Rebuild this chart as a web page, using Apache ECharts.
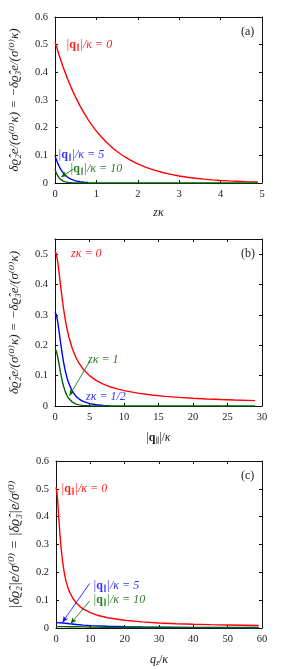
<!DOCTYPE html>
<html>
<head>
<meta charset="utf-8">
<script src="https://cdn.jsdelivr.net/npm/echarts@6/dist/echarts.min.js"></script>
<style>
html,body{margin:0;padding:0;background:#fff;}
#chart{width:288px;height:669px;}
</style>
</head>
<body>
<div id="chart"></div>
<script>
// ---------- Panel (a): charge density vs z*kappa ----------
var aX_red   = [0,0.1,0.2,0.3,0.4,0.5,0.6,0.7,0.8,0.9,1.0,1.1,1.2,1.3,1.4,1.5,1.6,1.7,1.8,1.9,2.0,2.2,2.4,2.6,2.8,3.0,3.2,3.4,3.6,3.8,4.0,4.2,4.4,4.6,4.8,4.9];
var aY_red   = [0.510,0.4615,0.4176,0.3778,0.3419,0.3093,0.2799,0.2533,0.2292,0.2074,0.1876,0.1698,0.1536,0.139,0.1258,0.1138,0.103,0.0932,0.0843,0.0763,0.069,0.0565,0.0463,0.0379,0.031,0.0254,0.0208,0.017,0.0139,0.0114,0.0093,0.0076,0.0063,0.0051,0.0042,0.0038];
var aX_blue  = [0,0.025,0.05,0.075,0.1,0.125,0.15,0.175,0.2,0.25,0.3,0.35,0.4,0.45,0.5,0.55,0.6,0.7,0.8];
var aY_blue  = [0.100,0.088,0.0775,0.0682,0.060,0.0529,0.0465,0.041,0.0361,0.0279,0.0217,0.0168,0.013,0.0101,0.0078,0.0061,0.0047,0.0028,0.0017];
var aX_green = [0,0.025,0.05,0.075,0.1,0.125,0.15,0.2,0.25,0.3,0.35,0.4,0.5,0.6,0.8,1,2,3,4,4.9];
var aY_green = [0.050,0.0389,0.0303,0.0236,0.0184,0.0143,0.0112,0.0068,0.0041,0.0025,0.0015,0.0009,0.0003,0.0001,0,0,0,0,0,0];

// ---------- Panel (b): charge density vs |q|/kappa ----------
var bX_red   = [0,0.2,0.4,0.6,0.8,1,1.25,1.5,1.75,2,2.5,3,3.5,4,5,6,7,8,9,10,12,14,16,18,20,22,24,26,29];
var bY_red   = [0.510,0.5001,0.4735,0.4374,0.3982,0.3606,0.3186,0.2829,0.253,0.2281,0.1894,0.1613,0.1401,0.1237,0.1,0.0838,0.0721,0.0633,0.0563,0.0507,0.0424,0.0363,0.0318,0.0283,0.0255,0.0232,0.0212,0.0196,0.0176];
var bX_blue  = [0,0.2,0.4,0.6,0.8,1,1.25,1.5,1.75,2,2.5,3,3.5,4,5,6,7,8];
var bY_blue  = [0.309,0.3003,0.2763,0.2442,0.2099,0.178,0.1431,0.115,0.0923,0.0746,0.0492,0.0331,0.0227,0.0158,0.0078,0.004,0.0021,0.0011];
var bX_green = [0,0.2,0.4,0.6,0.8,1,1.25,1.5,1.75,2,2.5,3,3.5,4,5,6,8,10,15,20,25,29];
var bY_green = [0.1876,0.1804,0.1613,0.1363,0.1107,0.0877,0.0643,0.0466,0.0337,0.0244,0.0128,0.0068,0.0037,0.002,0.0006,0.0002,0,0,0,0,0,0];

// ---------- Panel (c): |charge density| vs q_z/kappa ----------
var cX_red   = [0,0.25,0.5,0.75,1,1.25,1.5,2,2.5,3,3.5,4,5,6,7,8,10,12,15,20,25,30,35,40,45,50,55,59];
var cY_red   = [0.505,0.49,0.456,0.408,0.362,0.32,0.285,0.231,0.192,0.165,0.144,0.128,0.105,0.089,0.077,0.068,0.055,0.046,0.037,0.028,0.022,0.018,0.0155,0.0135,0.012,0.011,0.010,0.0092];
var cX_blue  = [0,2,4,6,8,10,15,20,25,30,40,50,59];
var cY_blue  = [0.0192,0.0179,0.0151,0.0125,0.0103,0.0087,0.0062,0.0048,0.0038,0.0032,0.0024,0.002,0.0017];
var cX_green = [0,2,4,6,8,10,15,20,25,30,40,50,59];
var cY_green = [0.00495,0.00485,0.0046,0.00425,0.0039,0.0035,0.0028,0.0022,0.0018,0.0016,0.0012,0.00098,0.00083];

// axis ranges / ticks
var xMax = [5, 30, 60];
var xInterval = [1, 5, 10];
var yMax = [0.6, 0.55, 0.6];
var yInterval = [0.1, 0.1, 0.1];

var xNames = ['{i|zκ}', '|{b|q}{s|∥}|/{i|κ}', '{i|q}{s|z}/{i|κ}'];
var yNames = [
  'δϱ̂₂e/(σ⁽⁰⁾κ) = −δϱ̂₃e/(σ⁽⁰⁾κ)',
  'δϱ̂₂e/(σ⁽⁰⁾κ) = −δϱ̂₃e/(σ⁽⁰⁾κ)',
  '|δϱ̂₂|e/σ⁽⁰⁾ = |δϱ̂₃|e/σ⁽⁰⁾'
];
var yNameSize = [13, 13, 14];
var panelTags = ['(a)', '(b)', '(c)'];

// annotation labels: [panel, text, colour-key]
var labelTexts = [
  [0, '|{b|q}{s|∥}|/κ = 0', 'red'],
  [0, '|{b|q}{s|∥}|/κ = 5', 'blue'],
  [0, '|{b|q}{s|∥}|/κ = 10', 'green'],
  [1, 'zκ = 0', 'red'],
  [1, 'zκ = 1', 'green'],
  [1, 'zκ = 1/2', 'blue'],
  [2, '|{b|q}{s|∥}|/κ = 0', 'red'],
  [2, '|{b|q}{s|∥}|/κ = 5', 'blue'],
  [2, '|{b|q}{s|∥}|/κ = 10', 'green']
];
var labelPos = [[66,45],[58,155],[70,169],[71,254],[88,360],[86,397],[61,489],[93,586],[93,600]];

// arrows in data coordinates: [panel, colour, from, to]
var arrows = [
  [0, 'green', [0.44, 0.050], [0.15, 0.022]],
  [1, 'green', [5.1, 0.150], [2.1, 0.034]],
  [2, 'blue',  [9.8, 0.160], [1.9, 0.021]],
  [2, 'green', [9.8, 0.097], [4.3, 0.016]]
];

var COLORS = {red:'#ff0000', blue:'#0000ff', green:'#006400'};
var TEXTCOL = {red:'#ff2020', blue:'#3030ff', green:'#2a7d2a'};
var FONT = '"Liberation Serif","DejaVu Serif",serif';

var gridTops = [17, 239, 461];
var gridH = [166, 167, 167];

var grids = [], xAxes = [], yAxes = [], series = [], graphics = [];
var frameCol = '#111';

for (var p = 0; p < 3; p++) {
  grids.push({left:53, top:gridTops[p], width:209, height:gridH[p]});
  xAxes.push({
    type:'value', gridIndex:p, min:0, max:xMax[p], interval:xInterval[p], position:'bottom',
    name:xNames[p], nameLocation:'middle', nameGap:24,
    nameTextStyle:{fontFamily:FONT, fontSize:12, color:'#222',
      rich:{i:{fontStyle:'italic', fontFamily:FONT, fontSize:12},
            b:{fontWeight:'bold', fontFamily:FONT, fontSize:12},
            s:{fontFamily:FONT, fontSize:8, fontStyle:'italic', padding:[7,0,0,0]}}},
    axisLine:{onZero:false, lineStyle:{color:frameCol, width:1}},
    axisTick:{inside:true, length:3, lineStyle:{color:frameCol}},
    axisLabel:{fontFamily:FONT, fontSize:10.5, color:'#222', margin:6},
    splitLine:{show:false}
  });
  xAxes.push({
    type:'value', gridIndex:p, min:0, max:xMax[p], interval:xInterval[p], position:'top',
    axisLine:{onZero:false, lineStyle:{color:frameCol, width:1}},
    axisTick:{inside:true, length:3, lineStyle:{color:frameCol}},
    axisLabel:{show:false}, splitLine:{show:false}
  });
  yAxes.push({
    type:'value', gridIndex:p, min:0, max:yMax[p], interval:yInterval[p], position:'left',
    name:yNames[p], nameLocation:'middle', nameGap:34, nameRotate:90,
    nameTextStyle:{fontFamily:FONT, fontSize:yNameSize[p], color:'#222', fontStyle:'italic'},
    axisLine:{onZero:false, lineStyle:{color:frameCol, width:1}},
    axisTick:{inside:true, length:3, lineStyle:{color:frameCol}},
    axisLabel:{fontFamily:FONT, fontSize:10.5, color:'#222', margin:7, showMaxLabel: p !== 1},
    splitLine:{show:false}
  });
  yAxes.push({
    type:'value', gridIndex:p, min:0, max:yMax[p], interval:yInterval[p], position:'right',
    axisLine:{onZero:false, lineStyle:{color:frameCol, width:1}},
    axisTick:{inside:true, length:3, lineStyle:{color:frameCol}},
    axisLabel:{show:false}, splitLine:{show:false}
  });
  graphics.push({type:'text', x:241, y:gridTops[p] + 15, style:{text:panelTags[p], font:'12px ' + FONT, fill:'#222', verticalAlign:'middle'}});
}

function zip(xs, ys) { return xs.map(function (x, i) { return [x, ys[i]]; }); }

var panelData = [
  [['red', aX_red, aY_red], ['blue', aX_blue, aY_blue], ['green', aX_green, aY_green]],
  [['red', bX_red, bY_red], ['blue', bX_blue, bY_blue], ['green', bX_green, bY_green]],
  [['red', cX_red, cY_red], ['blue', cX_blue, cY_blue], ['green', cX_green, cY_green]]
];

for (var p2 = 0; p2 < 3; p2++) {
  panelData[p2].forEach(function (d) {
    var ml = arrows.filter(function (a) { return a[0] === p2 && a[1] === d[0]; }).map(function (a) {
      return [{coord:a[2]}, {coord:a[3]}];
    });
    series.push({
      type:'line', xAxisIndex:2*p2, yAxisIndex:2*p2,
      data:zip(d[1], d[2]), showSymbol:false, smooth:false,
      lineStyle:{color:COLORS[d[0]], width:1.4}, itemStyle:{color:COLORS[d[0]]},
      z: d[0]==='red' ? 2 : (d[0]==='blue' ? 3 : 4),
      markLine: ml.length ? {
        silent:true, symbol:['none','arrow'], symbolSize:[4,6],
        label:{show:false},
        lineStyle:{color:COLORS[d[0]], width:0.8, type:'solid'},
        data:ml
      } : undefined
    });
  });
}

labelTexts.forEach(function (t, i) {
  graphics.push({
    type:'text', x:labelPos[i][0], y:labelPos[i][1],
    style:{
      text:t[1], fill:TEXTCOL[t[2]], font:'italic 12px ' + FONT, verticalAlign:'middle',
      rich:{
        b:{fontWeight:'bold', fontStyle:'normal', fontFamily:FONT, fontSize:12, fill:TEXTCOL[t[2]]},
        s:{fontFamily:FONT, fontSize:8, fill:TEXTCOL[t[2]], padding:[6,0,0,0]}
      }
    }
  });
});

var chart = echarts.init(document.getElementById('chart'), null, {renderer:'canvas'});
chart.setOption({
  animation:false,
  backgroundColor:'#fff',
  grid:grids, xAxis:xAxes, yAxis:yAxes, series:series, graphic:graphics
});
</script>
</body>
</html>
